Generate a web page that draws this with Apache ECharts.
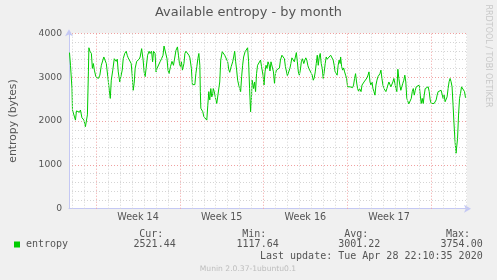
<!DOCTYPE html>
<html><head><meta charset="utf-8">
<script src="https://cdn.jsdelivr.net/npm/echarts@6/dist/echarts.min.js"></script>
<style>html,body{margin:0;padding:0;background:#F0F0F0}#c{width:497px;height:280px}</style>
</head><body><div id="c"></div>
<script>
const chartTitle = 'Available entropy - by month';
const yAxisName = 'entropy (bytes)';
const seriesName = 'entropy';
const weekLabels = ['Week 14', 'Week 15', 'Week 16', 'Week 17'];
const weekStarts = [54.6, 222.8, 391.0, 559.2, 727.4];   // hours since left edge of graph
const xRange = [0, 800];
const yRange = [0, 4000];
const yStep = 1000;
const statHeaders = ['Cur:', 'Min:', 'Avg:', 'Max:'];
const statValues = ['2521.44', '1117.64', '3001.22', '3754.00'];
const lastUpdate = 'Last update: Tue Apr 28 22:10:35 2020';
const footer = 'Munin 2.0.37-1ubuntu0.1';
const watermark = 'RRDTOOL / TOBI OETIKER';

const hours = [
1,3,6,7,9,11,13,15,18,21,23,26,28,30,33,35,37,39,40,42,45,47,49,50,51,54,57,59,62,65,67,70,73,75,78,81,83,85,88,91,93,95,97,99,102,105,107,109,112,115,117,119,122,125,127,129,131,133,136,
141,143,146,149,151,153,155,158,161,163,166,168,170,173,175,177,181,183,186,189,191,194,197,199,201,204,207,210,213,215,218,220,222,224,226,228,231,233,235,238,241,243,246,248,251,253,255,257,259,261,263,264,265,267,269,271,274,
277,279,281,282,283,285,287,289,290,292,294,297,301,303,305,308,311,313,316,319,321,323,326,329,331,333,335,337,339,342,345,347,349,351,354,357,359,361,363,365,367,368,370,371,373,375,377,379,381,383,385,387,390,392,394,396,398,400,402,404,406,
409,411,413,415,417,419,421,423,425,428,431,433,435,437,439,442,444,446,448,450,453,455,457,459,461,463,465,467,469,472,474,476,478,480,482,484,486,489,491,493,495,497,499,501,503,505,507,509,511,513,515,517,519,521,523,526,529,531,533,535,537,539,541,543,545,
546,548,550,552,554,556,558,560,562,565,567,570,572,574,576,578,580,582,584,587,589,591,593,595,597,599,601,603,605,607,609,611,613,615,617,619,621,623,625,627,629,631,633,635,637,639,641,643,645,647,649,651,653,655,657,659,661,663,665,667,669,671,673,675,677,679,
681,683,686,688,690,692,694,696,698,700,702,704,706,708,710,712,714,716,718,720,722,724,726,728,730,732,734,736,738,740,742,744,746,748,750,752,754,756,758,760,762,764,766,768,770,772,774,776,778,779,781,783,785,787,789,791,793,795,797
];
const entropy = [
3560,3270,2740,2250,2230,2250,2020,2230,2210,2200,2250,2075,2120,2020,1870,1890,2140,3120,3670,3590,3540,3200,3310,3350,3160,3010,2970,2970,3045,3270,3270,3460,3460,3310,3010,2700,2515,2930,3160,3420,3390,3360,3410,3120,2890,2860,3160,3420,3540,3590,3500,3440,3410,3310,3045,2700,2860,3200,3360,
3410,3460,3650,3390,3120,3010,3200,3500,3590,3540,3590,3350,3590,3540,3120,3200,3240,3350,3420,3500,3710,3690,3420,3160,3080,3240,3360,3270,3310,3610,3690,3500,3310,3240,3350,3160,3310,3540,3590,3580,3500,3440,3200,2830,2860,2830,3080,3240,3420,3540,3270,2670,2290,2270,2210,2100,2060,
2020,2360,2670,2550,2480,2740,2550,2630,2740,2670,2550,2400,2400,2890,3390,3580,3610,3500,3500,3350,3180,3110,3240,3350,3460,3590,3350,3160,2930,2780,2670,3010,3270,3460,3580,3610,3670,3350,2740,2210,2590,2930,2820,2740,2890,2670,3080,3270,3240,3310,3390,3240,3045,2820,3120,3270,3200,3350,3290,3140,3350,
3310,3120,2860,3080,3160,3160,3120,3210,3390,3500,3540,3420,3240,3200,3030,3010,3200,3310,3440,3410,3350,3460,3560,3350,3120,3045,3160,3350,3420,3310,3390,3440,3390,3270,3200,3240,3160,3045,2930,2985,3120,3310,3500,3270,3460,3540,3310,3200,2970,3120,3310,3460,3410,3440,3420,3500,3540,3390,3270,3120,3080,3045,3270,3390,3310,
3460,3240,3160,3210,3120,3045,2970,2780,2820,2780,2740,2760,2820,2970,3080,2890,2740,2680,2740,2670,2820,2860,2890,2930,2890,2985,3045,3120,2890,2820,2890,2740,2670,2590,2820,2930,3010,3045,3080,3160,2970,2820,2740,2700,2670,2740,2820,2890,2930,2780,2740,2890,2970,2860,2740,2670,3180,2970,2820,2700,2780,2860,2930,3045,2890,2515,
2510,2390,2400,2515,2670,2740,2590,2700,2780,2820,2740,2820,2590,2400,2515,2400,2590,2740,2780,2740,2780,2670,2480,2400,2420,2400,2400,2440,2480,2590,2670,2680,2650,2700,2670,2515,2590,2440,2400,2550,2740,2895,2970,2895,2780,2360,1910,1530,1265,1265,1605,2135,2515,2630,2780,2820,2740,2670,2530
];

const GREEN = '#00CC00';
const TXT = '#555555';
const SANS = 'DejaVu Sans';
const MONO = 'DejaVu Sans Mono';

// vertical grid lines: daily (gray) and weekly (red)
const daySpan = (weekStarts[weekStarts.length - 1] - weekStarts[0]) / ((weekStarts.length - 1) * 7);
const vLines = [];
for (let k = -3; k <= 28 + 4; k++) {
  const v = weekStarts[0] + k * daySpan;
  if (v <= xRange[0] || v >= xRange[1]) continue;
  const major = (k % 7 === 0);
  vLines.push({ xAxis: v, lineStyle: { color: major ? '#F0A0A0' : '#D4D4D4', type: [1, 2], width: 1 } });
}
const labelCenters = weekLabels.map((_, i) => (weekStarts[i] + weekStarts[i + 1]) / 2);

const data = hours.map((h, i) => [h, entropy[i]]);

const chart = echarts.init(document.getElementById('c'), null, { renderer: 'canvas' });
const statX = [175.7, 278.7, 380.3, 482.7];
const headX = [163.3, 266.3, 368.3, 470];
const graphics = [];
graphics.push({ type: 'rect', left: 14, top: 241.5, shape: { width: 6, height: 6 }, style: { fill: GREEN } });
graphics.push({ type: 'text', x: 26, y: 244.5, style: { text: seriesName, font: '10px ' + MONO, fill: TXT, textAlign: 'left', textVerticalAlign: 'middle' } });
statHeaders.forEach((t, i) => graphics.push({ type: 'text', x: headX[i], y: 234, style: { text: t, font: '10px ' + MONO, fill: TXT, textAlign: 'right', textVerticalAlign: 'middle' } }));
statValues.forEach((t, i) => graphics.push({ type: 'text', x: statX[i], y: 244.5, style: { text: t, font: '10px ' + MONO, fill: TXT, textAlign: 'right', textVerticalAlign: 'middle' } }));
graphics.push({ type: 'text', x: 482.7, y: 256.7, style: { text: lastUpdate, font: '10px ' + MONO, fill: TXT, textAlign: 'right', textVerticalAlign: 'middle' } });
graphics.push({ type: 'text', x: 248, y: 269.5, style: { text: footer, font: '7.6px ' + SANS, fill: '#BDBDBD', textAlign: 'center', textVerticalAlign: 'middle' } });
graphics.push({ type: 'text', x: 488.5, y: 56, rotation: -Math.PI / 2, style: { text: watermark, font: '8px ' + SANS, fill: '#C8C8C8', textAlign: 'center', textVerticalAlign: 'middle' } });

chart.setOption({
  backgroundColor: '#F0F0F0',
  animation: false,
  title: { text: chartTitle, left: 'center', top: 6, padding: 0,
    textStyle: { fontFamily: SANS, fontSize: 12.9, fontWeight: 'normal', color: TXT } },
  grid: { left: 67, right: 30, top: 33.3, bottom: 71.3, show: true, backgroundColor: '#FFFFFF', borderWidth: 0, containLabel: false },
  xAxis: {
    type: 'value', min: xRange[0], max: xRange[1],
    axisLine: { show: true, lineStyle: { color: '#C4C8F4', width: 1 }, symbol: ['none', 'arrow'], symbolSize: [6, 7], symbolOffset: [0, 4] },
    axisTick: { show: false },
    splitLine: { show: false },
    axisLabel: {
      customValues: labelCenters,
      formatter: (v) => { let b = 0; labelCenters.forEach((c, i) => { if (Math.abs(c - v) < Math.abs(labelCenters[b] - v)) b = i; }); return weekLabels[b]; },
      fontFamily: SANS, fontSize: 9.6, color: TXT, margin: 4
    }
  },
  yAxis: {
    type: 'value', min: yRange[0], max: yRange[1], interval: yStep,
    name: yAxisName, nameLocation: 'middle', nameGap: 50, nameRotate: 90,
    nameTextStyle: { fontFamily: SANS, fontSize: 10.8, color: TXT },
    axisLine: { show: true, lineStyle: { color: '#C4C8F4', width: 1 }, symbol: ['none', 'arrow'], symbolSize: [6, 7], symbolOffset: [0, 4] },
    axisTick: { show: false },
    axisLabel: { fontFamily: SANS, fontSize: 9.2, color: TXT, margin: 7, formatter: (v) => String(v) },
    splitLine: { show: true, lineStyle: { color: '#F0A0A0', type: [1, 2], width: 1 } },
    minorTick: { show: false, splitNumber: 5 },
    minorSplitLine: { show: true, lineStyle: { color: '#D4D4D4', type: [1, 2], width: 1 } }
  },
  series: [
    { type: 'line', name: 'grid', data: data, silent: true, z: 1, showSymbol: false,
      lineStyle: { opacity: 0 },
      markLine: { silent: true, symbol: ['none', 'none'], label: { show: false }, animation: false, data: vLines } },
    { type: 'line', name: seriesName, data: data, z: 3, showSymbol: false, symbol: 'none',
      lineStyle: { color: GREEN, width: 1 }, itemStyle: { color: GREEN } }
  ],
  graphic: graphics
});
</script>
</body></html>
